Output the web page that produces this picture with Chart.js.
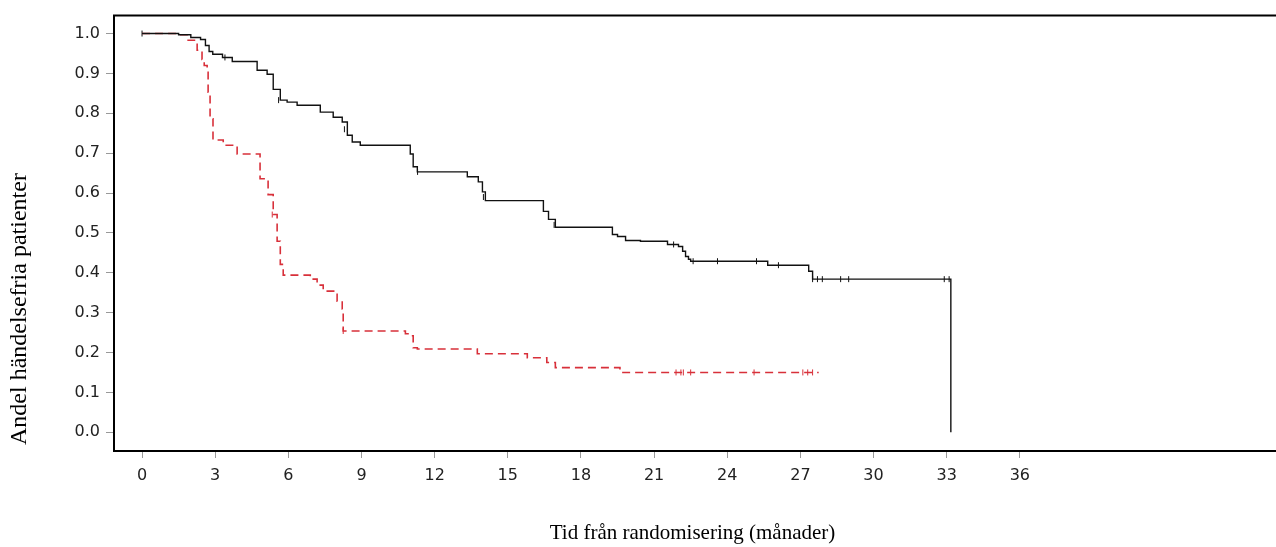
<!DOCTYPE html>
<html>
<head>
<meta charset="utf-8">
<script src="https://cdn.jsdelivr.net/npm/chart.js@4/dist/chart.umd.min.js"></script>
<style>
  html, body { margin: 0; padding: 0; background: #fff; }
  #wrap { width: 1276px; height: 547px; }
</style>
</head>
<body>
<div id="wrap"><canvas id="km" width="1276" height="547"></canvas></div>
<script>
// x ticks (months) and y ticks (share event free)
const monthTicks = [0, 3, 6, 9, 12, 15, 18, 21, 24, 27, 30, 33, 36];
const shareTicks = [0, 0.1, 0.2, 0.3, 0.4, 0.5, 0.6, 0.7, 0.8, 0.9, 1.0];

// black solid curve
const blackTime = [0, 1.5, 2.0, 2.4, 2.6, 2.75, 2.9, 3.3, 3.7, 4.72, 5.13, 5.38, 5.67, 5.95, 6.36,
  7.31, 7.84, 8.21, 8.42, 8.62, 8.95, 11.0, 11.12, 11.29, 13.34, 13.79, 13.96, 14.08,
  16.46, 16.67, 16.95, 19.29, 19.5, 19.83, 20.44, 21.55, 22.0, 22.17, 22.29, 22.41, 22.5,
  25.66, 27.34, 27.5, 33.17];
const blackSurv = [1.0, 0.997, 0.99, 0.985, 0.97, 0.955, 0.948, 0.94, 0.93, 0.908, 0.898, 0.86, 0.833, 0.828, 0.82,
  0.803, 0.79, 0.778, 0.745, 0.728, 0.72, 0.698, 0.666, 0.653, 0.641, 0.628, 0.603, 0.581,
  0.554, 0.534, 0.514, 0.496, 0.491, 0.481, 0.479, 0.471, 0.466, 0.454, 0.441, 0.434, 0.429,
  0.419, 0.404, 0.384, 0.0];

// red dashed curve
const redTime = [0, 1.5, 1.89, 2.26, 2.46, 2.55, 2.67, 2.71, 2.79, 2.91, 3.33, 3.9, 4.84, 5.17, 5.38,
  5.54, 5.67, 5.79, 6.9, 7.18, 7.43, 8.0, 8.21, 8.25, 10.8, 11.0, 11.12, 11.29, 13.75,
  15.8, 16.6, 16.95, 19.6, 27.75];
const redSurv = [1.0, 0.997, 0.983, 0.958, 0.935, 0.92, 0.903, 0.853, 0.786, 0.733, 0.72, 0.698, 0.636, 0.596, 0.546,
  0.479, 0.421, 0.394, 0.384, 0.369, 0.354, 0.329, 0.309, 0.254, 0.247, 0.242, 0.212, 0.209, 0.197,
  0.187, 0.175, 0.162, 0.15, 0.15];

// censoring marks
const blackCensorTime = [0, 3.4, 5.6, 8.3, 11.3, 14.0, 16.9, 21.8, 22.6, 23.6, 25.2, 26.1, 27.5, 27.7, 27.9, 28.65, 28.98, 32.9, 33.1];
const blackCensorSurv = [1.0, 0.94, 0.833, 0.76, 0.653, 0.59, 0.52, 0.471, 0.429, 0.429, 0.429, 0.419, 0.384, 0.384, 0.384, 0.384, 0.384, 0.384, 0.384];
const redCensorTime = [5.34, 8.25, 21.9, 22.1, 22.2, 22.5, 25.1, 27.1, 27.3, 27.5];
const redCensorSurv = [0.546, 0.254, 0.15, 0.15, 0.15, 0.15, 0.15, 0.15, 0.15, 0.15];

function pairs(xs, ys) {
  return xs.map((x, i) => ({ x: x, y: ys[i] }));
}

const black = '#111111';
const red = '#d8303a';

// top edge of the plot box, and the axis lines run on to the picture's edge
const framePlugin = {
  id: 'frame',
  afterDraw(chart) {
    const a = chart.chartArea;
    const ctx = chart.ctx;
    ctx.save();
    ctx.strokeStyle = '#000';
    ctx.lineWidth = 2;
    ctx.beginPath();
    ctx.moveTo(a.left - 1, a.top);
    ctx.lineTo(chart.width, a.top);
    ctx.moveTo(a.right - 1, a.bottom);
    ctx.lineTo(chart.width, a.bottom);
    ctx.stroke();
    ctx.restore();
  }
};

new Chart(document.getElementById('km'), {
  type: 'line',
  data: {
    datasets: [
      {
        label: 'black',
        data: pairs(blackTime, blackSurv),
        borderColor: black,
        borderWidth: 1.4,
        pointRadius: 0,
        stepped: true,
        fill: false
      },
      {
        label: 'red',
        data: pairs(redTime, redSurv),
        borderColor: red,
        borderWidth: 1.6,
        borderDash: [8, 5],
        pointRadius: 0,
        stepped: true,
        fill: false
      },
      {
        type: 'scatter',
        label: 'black censored',
        data: pairs(blackCensorTime, blackCensorSurv),
        showLine: false,
        pointStyle: 'line',
        rotation: 90,
        pointRadius: 3,
        borderColor: black,
        borderWidth: 1
      },
      {
        type: 'scatter',
        label: 'red censored',
        data: pairs(redCensorTime, redCensorSurv),
        showLine: false,
        pointStyle: 'line',
        rotation: 90,
        pointRadius: 3,
        borderColor: red,
        borderWidth: 1
      }
    ]
  },
  options: {
    responsive: false,
    animation: false,
    layout: { padding: { left: 0, right: 0, top: 13, bottom: 0 } },
    plugins: {
      legend: { display: false },
      tooltip: { enabled: false }
    },
    scales: {
      x: {
        type: 'linear',
        min: -1.15,
        max: 46.3,
        afterBuildTicks: scale => { scale.ticks = monthTicks.map(v => ({ value: v })); },
        afterFit: scale => { scale.height = 96; },
        ticks: {
          font: { family: 'DejaVu Sans', size: 16 },
          color: '#222',
          padding: 8,
          maxRotation: 0,
          callback: v => String(v)
        },
        grid: { drawOnChartArea: false, drawTicks: true, tickLength: 7, tickColor: '#999', tickWidth: 1 },
        border: { display: true, color: '#000', width: 2 },
        title: {
          display: true,
          text: 'Tid från randomisering (månader)',
          font: { family: 'Liberation Serif', size: 21 },
          color: '#000',
          padding: { top: 0, bottom: 1 }
        }
      },
      y: {
        type: 'linear',
        min: -0.047,
        max: 1.045,
        afterBuildTicks: scale => { scale.ticks = shareTicks.map(v => ({ value: v })); },
        afterFit: scale => { scale.width = 114; },
        ticks: {
          font: { family: 'DejaVu Sans', size: 16 },
          color: '#222',
          padding: 6,
          callback: v => Number(v).toFixed(1)
        },
        grid: { drawOnChartArea: false, drawTicks: true, tickLength: 8, tickColor: '#999', tickWidth: 1 },
        border: { display: true, color: '#000', width: 2 },
        title: {
          display: true,
          text: ' Andel händelsefria patienter',
          align: 'start',
          font: { family: 'Liberation Serif', size: 24 },
          color: '#000',
          padding: { top: 5, bottom: 0 }
        }
      }
    }
  },
  plugins: [framePlugin]
});
</script>
</body>
</html>
